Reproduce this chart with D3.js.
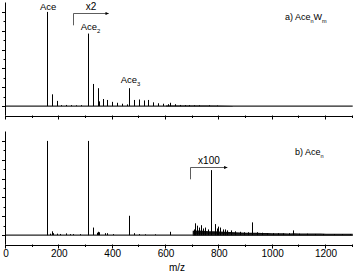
<!DOCTYPE html>
<html>
<head>
<meta charset="utf-8">
<script src="https://cdn.jsdelivr.net/npm/d3@7"></script>
<style>
  html, body { margin: 0; padding: 0; background: #fff; }
  svg { display: block; font-family: "Liberation Sans", Arial, sans-serif; }
</style>
</head>
<body>
<svg id="chart" width="355" height="275"></svg>
<script>
// x ticks (m/z)
const xTicks = [0, 100, 200, 300, 400, 500, 600, 700, 800, 900, 1000, 1100, 1200, 1300];
const xTickLabels = [0, 200, 400, 600, 800, 1000, 1200];
const yTicks = [0, 0.1, 0.2, 0.3, 0.4, 0.5, 0.6, 0.7, 0.8, 0.9, 1.0];

// panel a) Ace_nW_m : [m/z, relative intensity as drawn]
const peaksA = [
  [154, 1.0], [172, 0.125], [190, 0.055], [208, 0.01], [226, 0.012], [244, 0.01],
  [262, 0.008], [280, 0.01],
  [308, 0.77], [326, 0.235], [344, 0.19], [350, 0.05], [362, 0.075], [380, 0.065],
  [398, 0.045], [416, 0.035], [434, 0.025], [452, 0.018],
  [462, 0.19], [480, 0.065], [498, 0.07], [516, 0.06], [534, 0.065], [552, 0.04],
  [570, 0.03], [588, 0.025], [606, 0.02], [616, 0.035], [634, 0.02], [652, 0.012],
  [670, 0.01], [688, 0.01], [706, 0.008], [724, 0.008], [760, 0.008], [790, 0.006]
];
const noiseA_mz = [600, 650, 700, 750, 800, 850];
const noiseA_top = [0.008, 0.01, 0.009, 0.008, 0.006, 0.0];

// panel b) Ace_n
const peaksB = [
  [152, 0.02], [154, 1.0], [155, 0.18], [165, 0.015], [172, 0.04], [178, 0.02],
  [190, 0.015], [202, 0.012], [226, 0.018], [240, 0.01], [252, 0.01], [276, 0.01],
  [306, 0.02], [308, 1.0], [309, 0.3], [326, 0.08], [340, 0.025], [344, 0.035],
  [350, 0.03], [370, 0.02], [380, 0.02], [400, 0.01], [462, 0.205], [463, 0.05],
  [480, 0.02], [500, 0.01], [520, 0.008], [560, 0.008], [616, 0.035],
  // x100 region
  [704, 0.06], [710, 0.125], [716, 0.1], [722, 0.08], [731, 0.105], [740, 0.07],
  [746, 0.08], [756, 0.06], [768, 0.69], [784, 0.117], [790, 0.07], [796, 0.09],
  [804, 0.08], [812, 0.06], [820, 0.06], [830, 0.05], [844, 0.05], [860, 0.04],
  [876, 0.035], [892, 0.03], [906, 0.03], [922, 0.135], [940, 0.03], [960, 0.025],
  [980, 0.02], [1000, 0.02], [1020, 0.02], [1040, 0.018], [1060, 0.02], [1077, 0.05],
  [1100, 0.015], [1130, 0.015], [1160, 0.012], [1190, 0.012], [1230, 0.01],
  [1260, 0.01], [1290, 0.01]
];
const noiseB_mz = [700, 720, 740, 760, 780, 800, 820, 840, 860, 880, 900, 920, 940, 960,
  980, 1000, 1020, 1040, 1060, 1080, 1100, 1120, 1140, 1160, 1180, 1200, 1220, 1240,
  1260, 1280, 1300];
const noiseB_top = [0.045, 0.05, 0.045, 0.04, 0.04, 0.038, 0.035, 0.032, 0.03, 0.028,
  0.026, 0.026, 0.024, 0.022, 0.022, 0.02, 0.02, 0.02, 0.018, 0.02, 0.018, 0.017, 0.017,
  0.016, 0.016, 0.015, 0.015, 0.015, 0.014, 0.014, 0.014];

const svg = d3.select('#chart');
const x = d3.scaleLinear().domain([0, 1300]).range([6, 352.7]);
const crisp = v => Math.round(v) + 0.5;

const panels = [
  { peaks: peaksA, nmz: noiseA_mz, ntop: noiseA_top, y: d3.scaleLinear().domain([-0.1, 1.1]).range([115.5, 2.5]) },
  { peaks: peaksB, nmz: noiseB_mz, ntop: noiseB_top, y: d3.scaleLinear().domain([-0.1, 1.1]).range([244.5, 131.5]) }
];

panels.forEach((p, i) => {
  const g = svg.append('g');
  const y = p.y;

  // noise band
  const area = d3.area()
    .x(d => x(d[0])).y0(y(-0.008)).y1(d => y(d[1]));
  g.append('path')
    .datum(p.nmz.map((m, k) => [m, p.ntop[k]]))
    .attr('d', area)
    .attr('fill', i === 0 ? '#555' : '#111');

  // baseline of the trace
  g.append('line')
    .attr('x1', x(0)).attr('x2', x(1300))
    .attr('y1', y(0)).attr('y2', y(0))
    .attr('stroke', '#222').attr('stroke-width', 1.2);

  // sticks
  g.selectAll('line.pk').data(p.peaks).join('line')
    .attr('class', 'pk')
    .attr('x1', d => crisp(x(d[0]))).attr('x2', d => crisp(x(d[0])))
    .attr('y1', y(0)).attr('y2', d => y(d[1]))
    .attr('stroke', '#000').attr('stroke-width', 1);

  // y axis
  const [yb, yt] = y.range();
  g.append('line')
    .attr('x1', crisp(x(0)) - 1).attr('x2', crisp(x(0)) - 1)
    .attr('y1', yt).attr('y2', yb)
    .attr('stroke', '#000').attr('stroke-width', 1);
  g.selectAll('line.yt').data(yTicks).join('line')
    .attr('class', 'yt')
    .attr('x1', x(0) - 1).attr('x2', (d, k) => x(0) - (k % 2 === 0 ? 4 : 2.5))
    .attr('y1', d => crisp(y(d))).attr('y2', d => crisp(y(d)))
    .attr('stroke', '#000').attr('stroke-width', 1);

  // x axis
  g.append('line')
    .attr('x1', x(0) - 1).attr('x2', x(1300))
    .attr('y1', crisp(yb)).attr('y2', crisp(yb))
    .attr('stroke', '#000').attr('stroke-width', 1);
  g.selectAll('line.xt').data(xTicks).join('line')
    .attr('class', 'xt')
    .attr('x1', d => crisp(x(d)) - 1).attr('x2', d => crisp(x(d)) - 1)
    .attr('y1', yb).attr('y2', d => yb + (d % 200 === 0 ? 4 : 2.5))
    .attr('stroke', '#000').attr('stroke-width', 1);

  if (i === 1) {
    g.selectAll('text.xl').data(xTickLabels).join('text')
      .attr('class', 'xl')
      .attr('x', d => x(d)).attr('y', 257)
      .attr('text-anchor', 'middle').attr('font-size', 10)
      .text(d => d);
  }
});

const yA = panels[0].y, yB = panels[1].y;

// label helper with subscript
function label(xp, yp, base, sub, size, anchor) {
  const t = svg.append('text').attr('x', xp).attr('y', yp)
    .attr('font-size', size).attr('text-anchor', anchor || 'start');
  t.append('tspan').text(base);
  if (sub) t.append('tspan').attr('font-size', size * 0.62).attr('dy', 2.5).text(sub);
  return t;
}

label(x(154) + 1, 10, 'Ace', null, 9.5, 'middle');
label(80.7, 30, 'Ace', '2', 9.5);
label(120.7, 83.3, 'Ace', '3', 9.5);

// a) and b) titles
const ta = svg.append('text').attr('x', 285).attr('y', 20).attr('font-size', 9);
ta.append('tspan').text('a) Ace');
ta.append('tspan').attr('font-size', 5.5).attr('dy', 2.5).text('n');
ta.append('tspan').attr('dy', -2.5).text('W');
ta.append('tspan').attr('font-size', 5.5).attr('dy', 2.5).text('m');

label(295, 155, 'b) Ace', 'n', 9);

// scale-factor brackets
svg.append('defs').append('marker')
  .attr('id', 'arr').attr('viewBox', '0 0 10 10').attr('refX', 10).attr('refY', 5)
  .attr('markerWidth', 5).attr('markerHeight', 4).attr('orient', 'auto')
  .append('path').attr('d', 'M0,0L10,5L0,10Z').attr('fill', '#000');

function bracket(mzStart, mzEnd, yTop, yLow, txt) {
  const x0 = crisp(x(mzStart)) - 1;
  svg.append('path')
    .attr('d', `M${x0},${yLow}V${yTop}H${x(mzEnd)}`)
    .attr('fill', 'none').attr('stroke', '#333').attr('stroke-width', 0.8)
    .attr('marker-end', 'url(#arr)');
  svg.append('text').attr('x', (x0 + x(mzEnd)) / 2).attr('y', yTop - 3.5)
    .attr('text-anchor', 'middle').attr('font-size', 10).text(txt);
}
bracket(255, 385, crisp(yA(0.99)), 25.3, 'x2');
bracket(695, 830, crisp(yB(0.72)) , 179.3, 'x100');

svg.append('text').attr('x', 177).attr('y', 271)
  .attr('text-anchor', 'middle').attr('font-size', 10).text('m/z');
</script>
</body>
</html>
